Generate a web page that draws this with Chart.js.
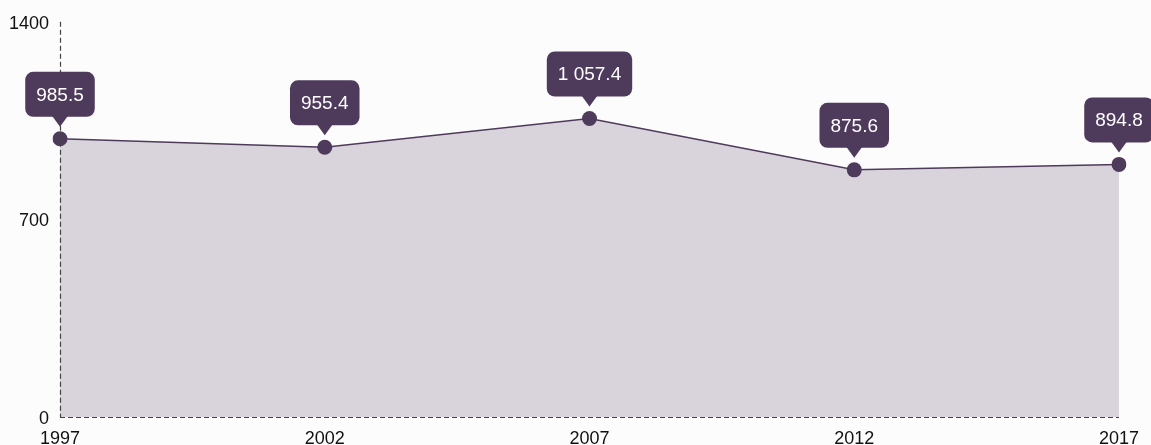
<!DOCTYPE html>
<html>
<head>
<meta charset="utf-8">
<script src="https://cdn.jsdelivr.net/npm/chart.js@4/dist/chart.umd.min.js"></script>
<style>
    html, body { margin: 0; padding: 0; background: #fcfcfc; }
    #wrap { width: 1151px; height: 445px; position: relative; }
</style>
</head>
<body>
<div id="wrap"><canvas id="lineChart"></canvas></div>
<script>
// Chart data
const years = ['1997', '2002', '2007', '2012', '2017'];
const values = [985.5, 955.4, 1057.4, 875.6, 894.8];
const yTicks = [0, 700, 1400];

const mainColor = '#4e3a5b';
const fillColor = '#d9d4dc';

// 1 057.4 style formatting
function formatValue(v) {
    const parts = v.toFixed(1).split('.');
    parts[0] = parts[0].replace(/\B(?=(\d{3})+(?!\d))/g, ' ');
    return parts.join('.');
}

// Dashed axis lines (drawn over the fill)
const dashedAxesPlugin = {
    id: 'dashedAxes',
    afterDatasetsDraw(chart) {
        const { ctx, chartArea } = chart;
        ctx.save();
        ctx.strokeStyle = '#444';
        ctx.lineWidth = 1.2;
        ctx.setLineDash([5, 3]);
        ctx.beginPath();
        ctx.moveTo(chartArea.left + 0.5, chartArea.top);
        ctx.lineTo(chartArea.left + 0.5, chartArea.bottom);
        ctx.moveTo(chartArea.left, chartArea.bottom + 0.5);
        ctx.lineTo(chartArea.right, chartArea.bottom + 0.5);
        ctx.stroke();
        ctx.restore();
    }
};

// Draws the dark label boxes above each point
const calloutPlugin = {
    id: 'callouts',
    afterDatasetsDraw(chart) {
        const ctx = chart.ctx;
        const meta = chart.getDatasetMeta(0);
        ctx.save();
        ctx.font = '19px "Liberation Sans", Arial, sans-serif';
        ctx.textAlign = 'center';
        ctx.textBaseline = 'middle';
        meta.data.forEach((pt, i) => {
            const text = formatValue(values[i]);
            const w = ctx.measureText(text).width + 22;
            const h = 45;
            const bottom = pt.y - 22;
            const top = bottom - h;
            const left = pt.x - w / 2;
            ctx.fillStyle = mainColor;
            ctx.beginPath();
            ctx.roundRect(left, top, w, h, 8);
            ctx.fill();
            // pointer
            ctx.beginPath();
            ctx.moveTo(pt.x - 8, bottom - 1);
            ctx.lineTo(pt.x + 8, bottom - 1);
            ctx.lineTo(pt.x, bottom + 10);
            ctx.closePath();
            ctx.fill();
            ctx.fillStyle = '#ffffff';
            ctx.fillText(text, pt.x, top + h / 2 + 1);
        });
        ctx.restore();
    }
};

const ctx = document.getElementById('lineChart').getContext('2d');
const lineChart = new Chart(ctx, {
    type: 'line',
    data: {
        labels: years,
        datasets: [{
            data: values,
            borderColor: mainColor,
            borderWidth: 1.5,
            backgroundColor: fillColor,
            fill: 'origin',
            tension: 0,
            pointRadius: 7.5,
            pointHoverRadius: 7.5,
            pointBackgroundColor: mainColor,
            pointBorderWidth: 0
        }]
    },
    options: {
        responsive: true,
        maintainAspectRatio: false,
        animation: false,
        layout: {
            padding: { top: 21, right: 32, left: 0, bottom: 0 }
        },
        plugins: {
            legend: { display: false },
            tooltip: { enabled: false }
        },
        scales: {
            x: {
                grid: { display: false, drawTicks: false },
                border: { display: false },
                ticks: {
                    color: '#111',
                    font: { family: '"Liberation Sans", Arial, sans-serif', size: 18 },
                    padding: 11,
                    maxRotation: 0,
                    autoSkip: false
                },
                afterFit: scale => { scale.height = 28; }
            },
            y: {
                min: 0,
                max: 1400,
                afterBuildTicks: scale => {
                    scale.ticks = yTicks.map(v => ({ value: v }));
                },
                grid: { display: false, drawTicks: false },
                border: { display: false },
                ticks: {
                    color: '#111',
                    font: { family: '"Liberation Sans", Arial, sans-serif', size: 18 },
                    padding: 11,
                    labelOffset: 2,
                    callback: value => String(value)
                },
                afterFit: scale => { scale.width = 60; }
            }
        }
    },
    plugins: [dashedAxesPlugin, calloutPlugin]
});
</script>
</body>
</html>
